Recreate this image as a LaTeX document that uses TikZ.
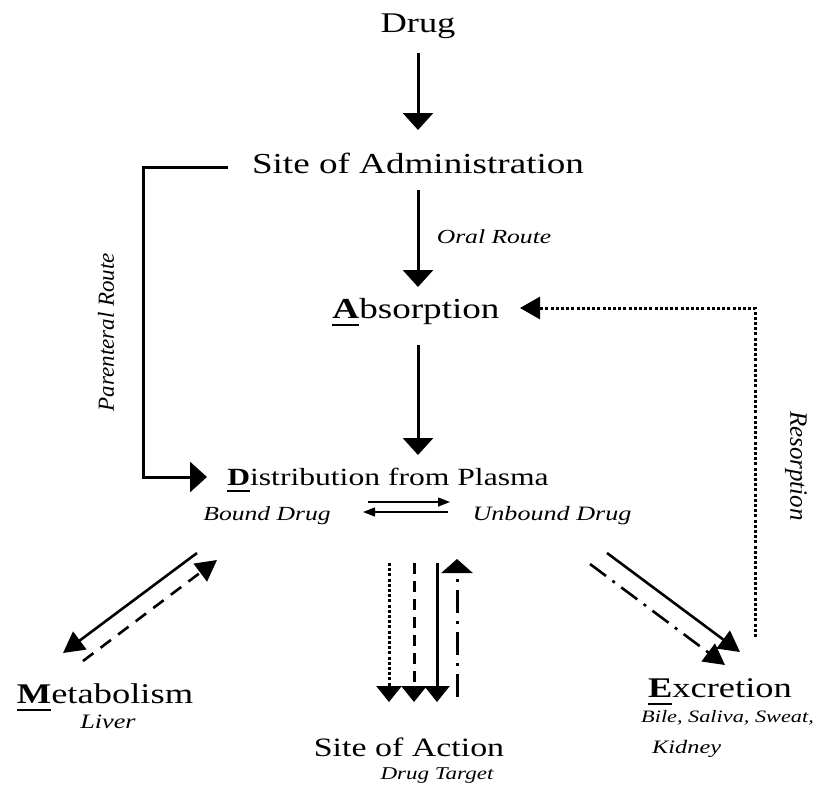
\documentclass[tikz,border=0pt]{standalone}
\usepackage{fontspec}
\setmainfont{Liberation Serif}[FakeStretch=1.28]
\newfontfamily\sideserif{Liberation Serif}
\usetikzlibrary{arrows.meta,calc}
\newcommand{\fsz}[1]{\fontsize{#1}{#1}\selectfont}
% bold initial letter with a heavy rule below it
\newcommand{\initial}[1]{\leavevmode\vtop{\hbox{\textbf{#1}}\kern0.2em\hrule height 0.085em}}
\begin{document}
\begin{tikzpicture}[x=1pt,y=-1pt,
  txt/.style={anchor=base,inner sep=0pt},
  heavy/.style={line width=3pt},
  medium/.style={line width=2.6pt},
  thin/.style={line width=1.3pt},
  bighead/.style={-{Triangle[width=30pt,length=17pt]}},
  midhead/.style={-{Triangle[width=22pt,length=20pt]}},
  diaghead/.style={-{Triangle[width=22pt,length=21pt]}},
  downhead/.style={-{Triangle[width=25pt,length=16pt]}},
  uphead/.style={-{Triangle[width=31pt,length=14pt]}},
  smallhead/.style={-{Triangle[width=9pt,length=12pt]}},
  dotline/.style={dash pattern=on 3pt off 2.2pt},
  dashline/.style={dash pattern=on 11pt off 7pt},
  longdash/.style={dash pattern=on 13pt off 9pt},
  dashdot/.style={dash pattern=on 23pt off 8pt on 3pt off 8pt},
  diagdashdot/.style={dash pattern=on 20pt off 8pt on 3pt off 8pt}]
\useasboundingbox (0,0) rectangle (816,788);

% main labels
\node[txt,font=\fsz{28.5}] (drug) at (418,32) {Drug};
\node[txt,font=\fsz{29}] (admin) at (418,173) {Site of Administration};
\node[txt,font=\fsz{29}] (abs) at (416,318) {\initial{A}bsorption};
\node[txt,font=\fsz{24.7}] (dist) at (388,485) {\initial{D}istribution from Plasma};
\node[txt,font=\fsz{28.5}] (met) at (105,703) {\initial{M}etabolism};
\node[txt,font=\fsz{26.5}] (action) at (409,756) {Site of Action};
\node[txt,font=\fsz{28.5}] (exc) at (720,697) {\initial{E}xcretion};

% italic annotations
\node[txt,font=\fsz{20}\itshape] (oral) at (494,243) {Oral Route};
\node[txt,font=\fsz{20}\itshape] (bound) at (267,520) {Bound Drug};
\node[txt,font=\fsz{20.4}\itshape] (unbound) at (552,520) {Unbound Drug};
\node[txt,font=\fsz{20.5}\itshape] (liver) at (108,728) {Liver};
\node[txt,font=\fsz{18}\itshape] (target) at (437,779) {Drug Target};
\node[txt,anchor=base west,font=\fsz{17.4}\itshape] (bile) at (641,722) {Bile, Saliva, Sweat,};
\node[txt,anchor=base west,font=\fsz{19}\itshape] (kidney) at (652,753) {Kidney};
\node[inner sep=0pt,rotate=90,font=\sideserif\fsz{23}\itshape] (parent) at (106,332) {Parenteral Route};
\node[inner sep=0pt,rotate=-90,font=\sideserif\fsz{25}\itshape] (resorb) at (796,466) {Resorption};

% main vertical chain
\draw[heavy,bighead] ($(drug.base)+(0,21)$) -- ($(admin.base)+(0,-43)$);
\draw[heavy,bighead] ($(admin.base)+(0,17)$) -- ($(abs.base)+(2,-31)$);
\draw[heavy,bighead] ($(abs.base)+(2,27)$) -- ($(dist.base)+(30,-30)$);

% parenteral route bracket
\draw[heavy,bighead,line join=miter] ($(admin.base)+(-190,-6)$) -- ++(-85,0)
  |- ($(dist.base)+(-181,-8)$);

% resorption loop back to absorption
\draw[heavy,dotline,midhead] ($(exc.base)+(35,-60)$) |- ($(abs.base)+(104,-10)$);

% binding equilibrium
\draw[thin,smallhead] ($(dist.base)+(-20,17)$) -- ($(dist.base)+(62,17)$);
\draw[thin,smallhead] ($(dist.base)+(60,27)$) -- ($(dist.base)+(-25,27)$);

% metabolism exchange
\draw[medium,diaghead] ($(met.base)+(92,-150)$) -- ($(met.base)+(-42,-50)$);
\draw[medium,longdash,diaghead] ($(met.base)+(-22,-42)$) -- ($(met.base)+(112,-143)$);

% transport to and from the site of action
\draw[heavy,dotline,downhead] ($(action.base)+(-20,-193)$) -- ($(action.base)+(-20,-54)$);
\draw[heavy,dashline,downhead] ($(action.base)+(5,-193)$) -- ($(action.base)+(5,-54)$);
\draw[heavy,downhead] ($(action.base)+(28,-193)$) -- ($(action.base)+(28,-54)$);
\draw[heavy,dashdot,uphead] ($(action.base)+(48,-59)$) -- ($(action.base)+(48,-197)$);

% excretion
\draw[medium,diaghead] ($(exc.base)+(-113,-144)$) -- ($(exc.base)+(20,-45)$);
\draw[medium,diagdashdot,diaghead] ($(exc.base)+(-130,-133)$) -- ($(exc.base)+(5,-32)$);
\end{tikzpicture}
\end{document}
